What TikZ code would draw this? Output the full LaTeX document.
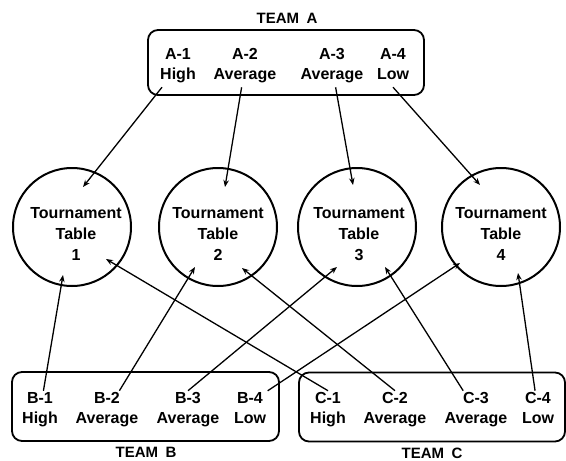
\documentclass[tikz,border=0pt]{standalone}
\usepackage{fontspec}
\setmainfont{Liberation Sans}
\usetikzlibrary{arrows.meta}
\begin{document}
\begin{tikzpicture}[x=1pt,y=-1pt,
  lab/.style={font=\bfseries\fontsize{16}{20}\selectfont, align=center, inner sep=1.5pt, execute at end node={\strut}},
  ttl/.style={font=\bfseries\fontsize{15}{18}\selectfont, inner sep=1pt},
  teambox/.style={draw, line width=1.8pt, rounded corners=10pt, inner sep=0pt},
  tbl/.style={draw, circle, line width=2pt, minimum size=118pt, inner sep=0pt},
  tbltext/.style={font=\bfseries\fontsize{16}{21}\selectfont, align=center, inner sep=0pt},
  arr/.style={line width=1.3pt, -{Stealth[length=7pt,width=5.5pt]}}]
\useasboundingbox (0,0) rectangle (566,461);

% team boxes
\node[teambox, minimum width=276pt, minimum height=65pt] (boxa) at (286,62.5) {};
\node[teambox, minimum width=267pt, minimum height=69pt] (boxb) at (145.5,406.5) {};
\node[teambox, minimum width=266pt, minimum height=69pt] (boxc) at (432,407) {};

% team titles
\node[ttl] (teama) at (287,18) {TEAM\hspace{0.5em}A};
\node[ttl] (teamb) at (146,452) {TEAM\hspace{0.5em}B};
\node[ttl] (teamc) at (432,453) {TEAM\hspace{0.5em}C};

% player labels
\node[lab] (a1) at (178,67) {A-1\\High};
\node[lab] (a2) at (245,67) {A-2\\Average};
\node[lab] (a3) at (332,67) {A-3\\Average};
\node[lab] (a4) at (393,67) {A-4\\Low};
\node[lab] (b1) at (40,411) {B-1\\High};
\node[lab] (b2) at (107,411) {B-2\\Average};
\node[lab] (b3) at (188,411) {B-3\\Average};
\node[lab] (b4) at (250,411) {B-4\\Low};
\node[lab] (c1) at (328,411) {C-1\\High};
\node[lab] (c2) at (395,411) {C-2\\Average};
\node[lab] (c3) at (476,411) {C-3\\Average};
\node[lab] (c4) at (538,411) {C-4\\Low};

% tournament tables
\node[tbl] (t1) at (72,227) {};
\node[tbl] (t2) at (218,227) {};
\node[tbl] (t3) at (357,227) {};
\node[tbl] (t4) at (501,227) {};
\node[tbltext] (l1) at (76,234) {Tournament\\Table\\1};
\node[tbltext] (l2) at (218,234) {Tournament\\Table\\2};
\node[tbltext] (l3) at (359,234) {Tournament\\Table\\3};
\node[tbltext] (l4) at (501,234) {Tournament\\Table\\4};

% arrow tips inside tables
\coordinate (t1a) at (83,187);
\coordinate (t1b) at (63,275);
\coordinate (t1c) at (106,259);
\coordinate (t2a) at (225,187);
\coordinate (t2b) at (195,267);
\coordinate (t2c) at (242,268);
\coordinate (t3a) at (353,185);
\coordinate (t3b) at (337,267);
\coordinate (t3c) at (385,267);
\coordinate (t4a) at (480,185);
\coordinate (t4b) at (460,263);
\coordinate (t4c) at (518,273);

% connectors
\draw[arr] (a1) -- (t1a);
\draw[arr] (a2) -- (t2a);
\draw[arr] (a3) -- (t3a);
\draw[arr] (a4.south) -- (t4a);
\draw[arr] (b1) -- (t1b);
\draw[arr] (b2) -- (t2b);
\draw[arr] (b3.north) -- (t3b);
\draw[arr] (b4.north east) -- (t4b);
\draw[arr] (c1.north) -- (t1c);
\draw[arr] (c2.north) -- (t2c);
\draw[arr] (c3) -- (t3c);
\draw[arr] (c4) -- (t4c);
\end{tikzpicture}
\end{document}
